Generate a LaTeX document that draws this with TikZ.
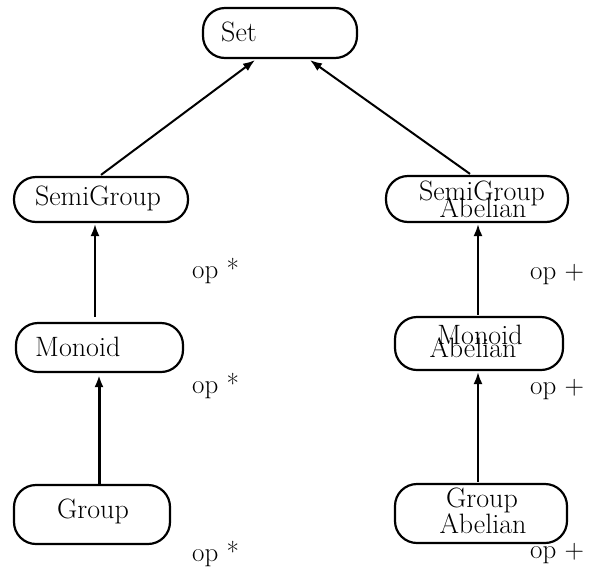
\documentclass[tikz,border=0pt]{standalone}
\usetikzlibrary{arrows.meta}
\begin{document}
\begin{tikzpicture}[x=1pt,y=-1pt,
  box/.style={draw,line width=2.2pt,rounded corners=22pt,inner sep=0pt},
  txt/.style={inner sep=0pt,font=\fontsize{28}{30}\selectfont},
  optxt/.style={inner sep=0pt,font=\fontsize{27}{29}\selectfont},
  arr/.style={line width=2pt,-{Latex[length=12pt,width=9pt]}},
  arrthick/.style={line width=3pt,-{Latex[length=12pt,width=9pt]}}]
\useasboundingbox (0,0) rectangle (589,571);
% boxes
\node[box,minimum width=154pt,minimum height=50pt] (set) at (280,33) {};
\node[box,minimum width=174pt,minimum height=45pt] (sg) at (101,199.5) {};
\node[box,minimum width=182pt,minimum height=46pt] (sga) at (477,199) {};
\node[box,minimum width=167pt,minimum height=49pt] (mon) at (99.5,347.5) {};
\node[box,minimum width=168pt,minimum height=53pt] (mona) at (479,343.5) {};
\node[box,minimum width=156pt,minimum height=59pt] (grp) at (92,514.5) {};
\node[box,minimum width=172pt,minimum height=59pt] (grpa) at (481,513.5) {};
% texts
\node[txt,anchor=base west] (tset) at (221,41) {Set};
\node[txt,anchor=base] (tsg) at (98,205) {SemiGroup};
\node[txt,anchor=base] (tsga1) at (482,200) {SemiGroup};
\node[txt,anchor=base] (tsga2) at (483,217) {Abelian};
\node[txt,anchor=base west] (tmon) at (35,356) {Monoid};
\node[txt,anchor=base] (tmona1) at (480,344) {Monoid};
\node[txt,anchor=base] (tmona2) at (473,357) {Abelian};
\node[txt,anchor=base] (tgrp) at (93,518) {Group};
\node[txt,anchor=base] (tgrpa1) at (482,507) {Group};
\node[txt,anchor=base] (tgrpa2) at (483,533) {Abelian};
% op labels
\node[optxt,anchor=base west] (op1) at (192,278) {op *};
\node[optxt,anchor=base west] (op2) at (192,393) {op *};
\node[optxt,anchor=base west] (op3) at (192,561) {op *};
\node[optxt,anchor=base west] (op4) at (530,279) {op +};
\node[optxt,anchor=base west] (op5) at (530,394) {op +};
\node[optxt,anchor=base west] (op6) at (530,558) {op +};
% arrows
\draw[arr] ([yshift=1pt]sg.north) -- ([xshift=-25pt,yshift=-1pt]set.south);
\draw[arr] ([xshift=-7pt,yshift=1pt]sga.north) -- ([xshift=30pt,yshift=-1pt]set.south);
\draw[arr] ([xshift=-4.5pt,yshift=5pt]mon.north) -- ([xshift=-6pt,yshift=-1pt]sg.south);
\draw[arr] ([xshift=-1pt,yshift=1pt]mona.north) -- ([xshift=1pt,yshift=-1pt]sga.south);
\draw[arrthick] ([xshift=7pt]grp.north) -- ([xshift=-0.5pt,yshift=-2pt]mon.south);
\draw[arr] ([xshift=-3pt,yshift=1pt]grpa.north) -- ([xshift=-1pt,yshift=-1pt]mona.south);
\end{tikzpicture}
\end{document}
